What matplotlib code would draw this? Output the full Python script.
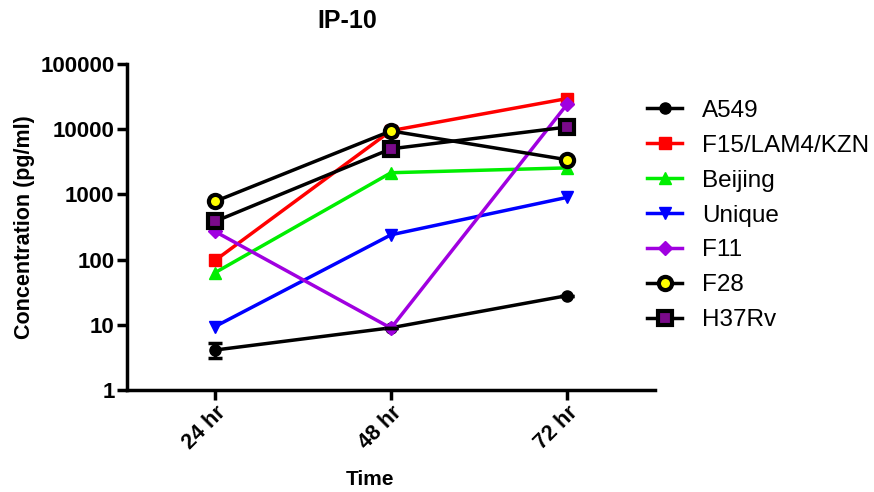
import matplotlib
matplotlib.use("Agg")
import matplotlib.pyplot as plt
from matplotlib.ticker import FixedLocator, NullLocator, FixedFormatter

plt.rcParams['font.family'] = ['Liberation Sans', 'DejaVu Sans']

time_labels = ["24 hr", "48 hr", "72 hr"]
series_names = ["A549", "F15/LAM4/KZN", "Beijing", "Unique", "F11", "F28", "H37Rv"]
a549 = [4.1, 9.0, 28]
f15 = [97, 9500, 29500]
beijing = [63, 2150, 2550]
unique = [9.4, 240, 900]
f11 = [270, 8.9, 24000]
f28 = [780, 9400, 3400]
h37rv = [385, 5000, 10800]
a549_err_low = [1.0, 0, 0]
a549_err_high = [1.1, 0, 0]
y_ticks = [1, 10, 100, 1000, 10000, 100000]

styles = [
    dict(color="black", marker="o", mfc="black", mec="black", ms=8, mew=1),
    dict(color="#ff0000", marker="s", mfc="#ff0000", mec="#ff0000", ms=8, mew=1),
    dict(color="#00ee00", marker="^", mfc="#00ee00", mec="#00ee00", ms=9, mew=1),
    dict(color="#0000ff", marker="v", mfc="#0000ff", mec="#0000ff", ms=9, mew=1),
    dict(color="#a000e0", marker="D", mfc="#a000e0", mec="#a000e0", ms=7.5, mew=1),
    dict(color="black", marker="o", mfc="#ffff00", mec="black", ms=9.5, mew=3),
    dict(color="black", marker="s", mfc="#7a0a8a", mec="black", ms=9.5, mew=3),
]
data = [a549, f15, beijing, unique, f11, f28, h37rv]

fig = plt.figure(figsize=(8.74, 4.92), dpi=100)
ax = fig.add_axes([127/874, 1-390/492, (655-127)/874, (390-64)/492])
x = [1, 2, 3]
for name, vals, st in zip(series_names, data, styles):
    ax.plot(x, vals, lw=2.5, label=name, **st)
ax.errorbar(x, a549, yerr=[a549_err_low, a549_err_high], fmt='none', ecolor='black',
            elinewidth=2.5, capsize=5, capthick=2.5)

ax.set_yscale('log')
ax.set_ylim(1, 100000)
ax.set_xlim(0.5, 3.5)
ax.yaxis.set_major_locator(FixedLocator(y_ticks))
ax.yaxis.set_major_formatter(FixedFormatter([str(t) for t in y_ticks]))
ax.yaxis.set_minor_locator(NullLocator())
ax.set_xticks(x)
ax.set_xticklabels(time_labels, rotation=45, ha='right', rotation_mode='anchor',
                   fontsize=15.5, fontweight='bold')
for lab in ax.get_yticklabels():
    lab.set_fontsize(16)
    lab.set_fontweight('bold')
for s in ['top', 'right']:
    ax.spines[s].set_visible(False)
for s in ['left', 'bottom']:
    ax.spines[s].set_linewidth(2.5)
ax.tick_params(axis='both', which='major', direction='out', length=7, width=2.5, pad=2)
ax.set_xlabel("Time", fontsize=15, fontweight='bold', labelpad=2)
ax.xaxis.set_label_coords((370-127)/528, -0.245, transform=ax.transAxes)
ax.set_ylabel("Concentration (pg/ml)", fontsize=15.5, fontweight='bold', labelpad=4)
fig.text(347/874, 1-21/492, "IP-10", fontsize=18, fontweight='bold', ha='center', va='center')
ax.legend(loc='upper left', bbox_to_anchor=(0.985, 0.89), frameon=False, fontsize=17.5,
          handlelength=1.45, labelspacing=0.53, handletextpad=0.8, borderpad=0,
          borderaxespad=0)
fig.savefig("out.png", dpi=100)
